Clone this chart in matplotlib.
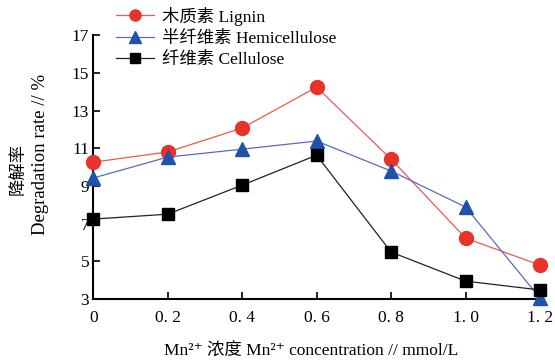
import matplotlib
matplotlib.use('Agg')
import matplotlib.pyplot as plt

plt.rcParams['font.family'] = ['Liberation Serif', 'DejaVu Serif', 'Noto Sans CJK SC']

conc = [0, 0.2, 0.4, 0.6, 0.8, 1.0, 1.2]
conc_labels = ['0', '0. 2', '0. 4', '0. 6', '0. 8', '1. 0', '1. 2']
lignin = [10.26, 10.8, 12.07, 14.24, 10.42, 6.23, 4.8]
hemicellulose = [9.42, 10.53, 10.95, 11.38, 9.79, 7.88, 3.05]
cellulose = [7.24, 7.5, 9.04, 10.63, 5.49, 3.95, 3.48]
y_ticks = [3, 5, 7, 9, 11, 13, 15, 17]

fig = plt.figure(figsize=(5.55, 3.62), dpi=100)
ax = fig.add_axes([0.168, 0.174, 0.805, 0.729])

l1, = ax.plot(conc, lignin, color='#F0584A', lw=0.9, marker='o', ms=10,
              mfc='#E8322A', mec='#E8322A', clip_on=False, zorder=3,
              label='木质素 Lignin')
l2, = ax.plot(conc, hemicellulose, color='#5A6AC0', lw=0.9, marker='^', ms=10,
              mfc='#1F52A8', mec='#1F52A8', clip_on=False, zorder=3,
              label='半纤维素 Hemicellulose')
l3, = ax.plot(conc, cellulose, color='#222222', lw=0.9, marker='s', ms=9,
              mfc='black', mec='black', clip_on=False, zorder=4,
              label='纤维素 Cellulose')

ax.set_xlim(0, 1.2)
ax.set_ylim(3, 17)
ax.set_xticks(conc)
ax.set_xticklabels(conc_labels)
ax.set_yticks(y_ticks)
ax.tick_params(direction='in', length=5, width=1.2, labelsize=12.5)
ax.tick_params(axis='x', pad=8)
ax.tick_params(axis='y', pad=3)
ax.spines['top'].set_visible(False)
ax.spines['right'].set_visible(False)
ax.spines['left'].set_linewidth(1.5)
ax.spines['bottom'].set_linewidth(1.5)

# two-line y label drawn as separate texts (CJK line + English line)
fig.text(0.034, 0.533, '降解率', rotation=90, ha='center', va='center', fontsize=12.5)
fig.text(0.073, 0.572, 'Degradation rate // %', rotation=90, ha='center', va='center', fontsize=13.5)

fig.text(0.56, 0.028, 'Mn²⁺ 浓度 Mn²⁺ concentration // mmol/L', ha='center', va='center',
         fontsize=12.5)

fig.legend(handles=[l1, l2, l3], loc='upper left', bbox_to_anchor=(0.18, 1.025),
           frameon=False, fontsize=12.5, handlelength=2.2, labelspacing=0.3,
           handletextpad=0.5, markerscale=0.8)

fig.savefig('out.png', dpi=100)
